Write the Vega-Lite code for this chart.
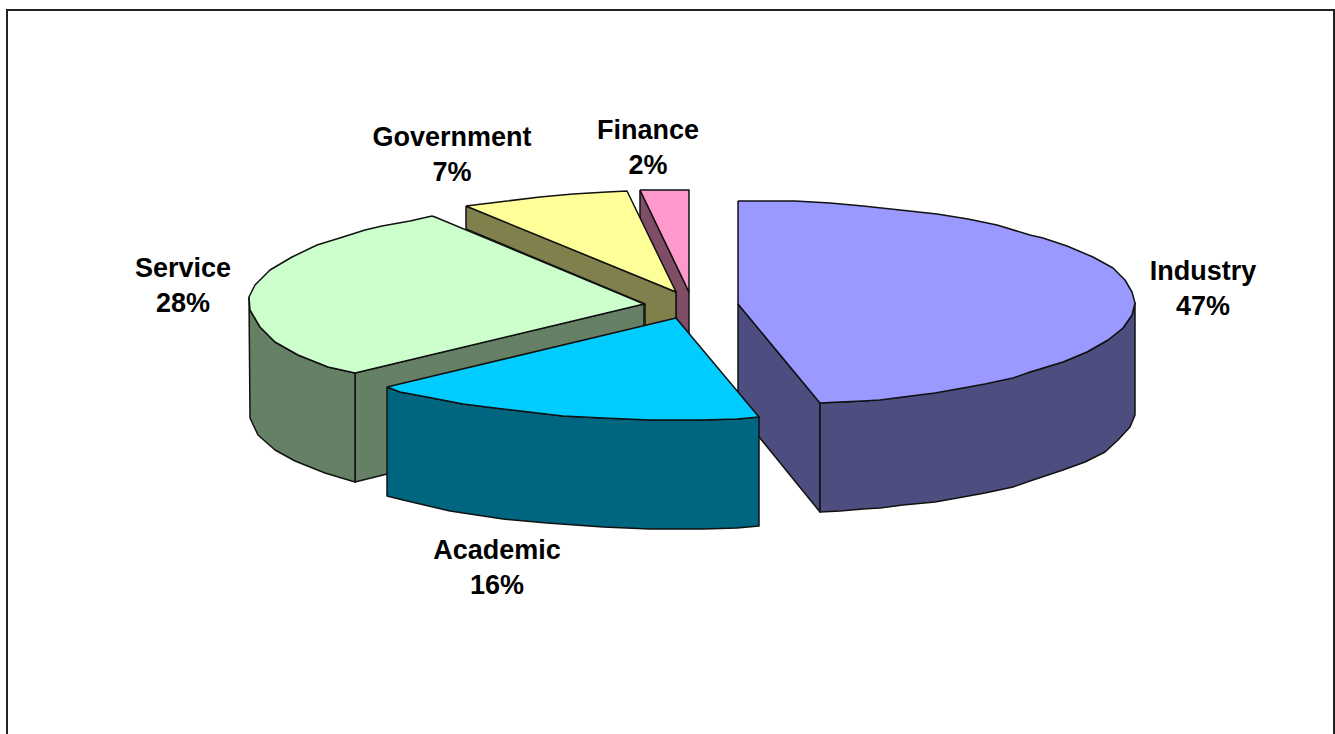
{"$schema":"https://vega.github.io/schema/vega-lite/v6.json","width":1335,"height":734,"padding":0,"autosize":"none","background":"white","config":{"view":{"stroke":null}},
"datasets":{
"frame":[{"i":0,"x":7,"y":734},{"i":1,"x":7,"y":10},{"i":2,"x":1334,"y":10},{"i":3,"x":1334,"y":734}],
"labels":[{"t":"Industry\n47%","x":1203,"y":272},{"t":"Academic\n16%","x":497,"y":551},{"t":"Service\n28%","x":183,"y":269},{"t":"Government\n7%","x":452,"y":138},{"t":"Finance\n2%","x":648,"y":131}],
"poly":[
{"p":"Finance wall","i":0,"x":640,"y":190},{"p":"Finance wall","i":1,"x":689,"y":292},{"p":"Finance wall","i":2,"x":689,"y":335},{"p":"Finance wall","i":3,"x":676,"y":318},{"p":"Finance wall","i":4,"x":676,"y":293},{"p":"Finance wall","i":5,"x":640,"y":240},{"p":"Finance wall","i":6,"x":640,"y":190},
{"p":"Finance top","i":0,"x":640,"y":190},{"p":"Finance top","i":1,"x":689,"y":190},{"p":"Finance top","i":2,"x":689,"y":292},{"p":"Finance top","i":3,"x":640,"y":190},
{"p":"Government wall","i":0,"x":466,"y":206},{"p":"Government wall","i":1,"x":676,"y":292},{"p":"Government wall","i":2,"x":676,"y":319},{"p":"Government wall","i":3,"x":645,"y":326},{"p":"Government wall","i":4,"x":645,"y":304},{"p":"Government wall","i":5,"x":466,"y":229},{"p":"Government wall","i":6,"x":466,"y":206},
{"p":"Government top","i":0,"x":466,"y":206},{"p":"Government top","i":1,"x":507,"y":201},{"p":"Government top","i":2,"x":540,"y":197},{"p":"Government top","i":3,"x":573,"y":194},{"p":"Government top","i":4,"x":607,"y":192},{"p":"Government top","i":5,"x":627,"y":191},{"p":"Government top","i":6,"x":676,"y":292},{"p":"Government top","i":7,"x":466,"y":206},
{"p":"Service inner","i":0,"x":355,"y":373},{"p":"Service inner","i":1,"x":644,"y":304},{"p":"Service inner","i":2,"x":644,"y":410},{"p":"Service inner","i":3,"x":355,"y":482},{"p":"Service inner","i":4,"x":355,"y":373},
{"p":"Service wall","i":0,"x":249,"y":297},{"p":"Service wall","i":1,"x":250,"y":310},{"p":"Service wall","i":2,"x":260,"y":327},{"p":"Service wall","i":3,"x":275,"y":342},{"p":"Service wall","i":4,"x":298,"y":355},{"p":"Service wall","i":5,"x":328,"y":367},{"p":"Service wall","i":6,"x":355,"y":373},{"p":"Service wall","i":7,"x":355,"y":482},{"p":"Service wall","i":8,"x":325,"y":473},{"p":"Service wall","i":9,"x":295,"y":461},{"p":"Service wall","i":10,"x":275,"y":450},{"p":"Service wall","i":11,"x":258,"y":435},{"p":"Service wall","i":12,"x":250,"y":418},{"p":"Service wall","i":13,"x":249,"y":297},
{"p":"Service top","i":0,"x":432,"y":216},{"p":"Service top","i":1,"x":435,"y":217},{"p":"Service top","i":2,"x":644,"y":304},{"p":"Service top","i":3,"x":355,"y":373},{"p":"Service top","i":4,"x":328,"y":367},{"p":"Service top","i":5,"x":298,"y":355},{"p":"Service top","i":6,"x":275,"y":342},{"p":"Service top","i":7,"x":260,"y":327},{"p":"Service top","i":8,"x":250,"y":310},{"p":"Service top","i":9,"x":249,"y":297},{"p":"Service top","i":10,"x":255,"y":285},{"p":"Service top","i":11,"x":270,"y":270},{"p":"Service top","i":12,"x":292,"y":257},{"p":"Service top","i":13,"x":317,"y":245},{"p":"Service top","i":14,"x":343,"y":237},{"p":"Service top","i":15,"x":365,"y":230},{"p":"Service top","i":16,"x":382,"y":226},{"p":"Service top","i":17,"x":410,"y":221},{"p":"Service top","i":18,"x":432,"y":216},
{"p":"Industry cut","i":0,"x":738,"y":304},{"p":"Industry cut","i":1,"x":820,"y":403},{"p":"Industry cut","i":2,"x":820,"y":512},{"p":"Industry cut","i":3,"x":738,"y":411},{"p":"Industry cut","i":4,"x":738,"y":304},
{"p":"Industry wall","i":0,"x":820,"y":403},{"p":"Industry wall","i":1,"x":863,"y":401},{"p":"Industry wall","i":2,"x":903,"y":397},{"p":"Industry wall","i":3,"x":963,"y":388},{"p":"Industry wall","i":4,"x":1030,"y":372},{"p":"Industry wall","i":5,"x":1063,"y":362},{"p":"Industry wall","i":6,"x":1087,"y":352},{"p":"Industry wall","i":7,"x":1108,"y":340},{"p":"Industry wall","i":8,"x":1123,"y":328},{"p":"Industry wall","i":9,"x":1132,"y":315},{"p":"Industry wall","i":10,"x":1135,"y":303},{"p":"Industry wall","i":11,"x":1135,"y":415},{"p":"Industry wall","i":12,"x":1130,"y":427},{"p":"Industry wall","i":13,"x":1118,"y":440},{"p":"Industry wall","i":14,"x":1105,"y":452},{"p":"Industry wall","i":15,"x":1085,"y":462},{"p":"Industry wall","i":16,"x":1063,"y":470},{"p":"Industry wall","i":17,"x":1030,"y":481},{"p":"Industry wall","i":18,"x":1013,"y":487},{"p":"Industry wall","i":19,"x":985,"y":493},{"p":"Industry wall","i":20,"x":963,"y":497},{"p":"Industry wall","i":21,"x":935,"y":502},{"p":"Industry wall","i":22,"x":903,"y":505},{"p":"Industry wall","i":23,"x":880,"y":508},{"p":"Industry wall","i":24,"x":863,"y":509},{"p":"Industry wall","i":25,"x":840,"y":511},{"p":"Industry wall","i":26,"x":820,"y":512},{"p":"Industry wall","i":27,"x":820,"y":403},
{"p":"Industry top","i":0,"x":738,"y":201},{"p":"Industry top","i":1,"x":795,"y":201},{"p":"Industry top","i":2,"x":830,"y":203},{"p":"Industry top","i":3,"x":863,"y":206},{"p":"Industry top","i":4,"x":900,"y":210},{"p":"Industry top","i":5,"x":937,"y":214},{"p":"Industry top","i":6,"x":968,"y":219},{"p":"Industry top","i":7,"x":997,"y":225},{"p":"Industry top","i":8,"x":1030,"y":235},{"p":"Industry top","i":9,"x":1043,"y":238},{"p":"Industry top","i":10,"x":1067,"y":246},{"p":"Industry top","i":11,"x":1093,"y":257},{"p":"Industry top","i":12,"x":1113,"y":268},{"p":"Industry top","i":13,"x":1125,"y":280},{"p":"Industry top","i":14,"x":1132,"y":292},{"p":"Industry top","i":15,"x":1135,"y":303},{"p":"Industry top","i":16,"x":1132,"y":315},{"p":"Industry top","i":17,"x":1123,"y":328},{"p":"Industry top","i":18,"x":1108,"y":340},{"p":"Industry top","i":19,"x":1087,"y":352},{"p":"Industry top","i":20,"x":1063,"y":362},{"p":"Industry top","i":21,"x":1030,"y":372},{"p":"Industry top","i":22,"x":1013,"y":378},{"p":"Industry top","i":23,"x":985,"y":384},{"p":"Industry top","i":24,"x":963,"y":388},{"p":"Industry top","i":25,"x":935,"y":393},{"p":"Industry top","i":26,"x":903,"y":397},{"p":"Industry top","i":27,"x":880,"y":400},{"p":"Industry top","i":28,"x":863,"y":401},{"p":"Industry top","i":29,"x":840,"y":402},{"p":"Industry top","i":30,"x":820,"y":403},{"p":"Industry top","i":31,"x":738,"y":304},{"p":"Industry top","i":32,"x":738,"y":201},
{"p":"Academic wall","i":0,"x":387,"y":387},{"p":"Academic wall","i":1,"x":400,"y":392},{"p":"Academic wall","i":2,"x":427,"y":397},{"p":"Academic wall","i":3,"x":463,"y":404},{"p":"Academic wall","i":4,"x":503,"y":409},{"p":"Academic wall","i":5,"x":563,"y":416},{"p":"Academic wall","i":6,"x":603,"y":418},{"p":"Academic wall","i":7,"x":650,"y":420},{"p":"Academic wall","i":8,"x":703,"y":420},{"p":"Academic wall","i":9,"x":737,"y":419},{"p":"Academic wall","i":10,"x":759,"y":417},{"p":"Academic wall","i":11,"x":759,"y":526},{"p":"Academic wall","i":12,"x":737,"y":528},{"p":"Academic wall","i":13,"x":703,"y":529},{"p":"Academic wall","i":14,"x":650,"y":529},{"p":"Academic wall","i":15,"x":603,"y":527},{"p":"Academic wall","i":16,"x":547,"y":523},{"p":"Academic wall","i":17,"x":503,"y":519},{"p":"Academic wall","i":18,"x":450,"y":511},{"p":"Academic wall","i":19,"x":403,"y":500},{"p":"Academic wall","i":20,"x":387,"y":496},{"p":"Academic wall","i":21,"x":387,"y":387},
{"p":"Academic top","i":0,"x":387,"y":387},{"p":"Academic top","i":1,"x":676,"y":318},{"p":"Academic top","i":2,"x":759,"y":417},{"p":"Academic top","i":3,"x":737,"y":419},{"p":"Academic top","i":4,"x":703,"y":420},{"p":"Academic top","i":5,"x":650,"y":420},{"p":"Academic top","i":6,"x":603,"y":418},{"p":"Academic top","i":7,"x":563,"y":416},{"p":"Academic top","i":8,"x":503,"y":409},{"p":"Academic top","i":9,"x":463,"y":404},{"p":"Academic top","i":10,"x":427,"y":397},{"p":"Academic top","i":11,"x":400,"y":392},{"p":"Academic top","i":12,"x":387,"y":387}
]},
"layer":[
{"data":{"name":"frame"},"mark":{"type":"line","stroke":"#222222","strokeWidth":2},"encoding":{"x":{"field":"x","type":"quantitative","scale":{"domain":[0,1335],"nice":false,"zero":false},"axis":null},"y":{"field":"y","type":"quantitative","scale":{"domain":[734,0],"nice":false,"zero":false},"axis":null},"order":{"field":"i"}}},
{"data":{"name":"poly"},"mark":{"type":"line","filled":true,"stroke":"#111111","strokeWidth":1.5,"strokeJoin":"round"},"encoding":{"x":{"field":"x","type":"quantitative","axis":null},"y":{"field":"y","type":"quantitative","axis":null},"order":{"field":"i"},"fill":{"field":"p","type":"nominal","legend":null,"scale":{"domain":["Finance wall","Finance top","Government wall","Government top","Service inner","Service wall","Service top","Industry cut","Industry wall","Industry top","Academic wall","Academic top"],"range":["#804D66","#FF99CC","#80804D","#FFFF99","#668066","#668066","#CCFFCC","#4D4D7F","#4D4D7F","#9999FF","#006680","#00CCFF"]}}}},
{"data":{"name":"labels"},"mark":{"type":"text","font":"Liberation Sans","fontWeight":"bold","fontSize":27,"lineBreak":"\n","lineHeight":35,"align":"center","baseline":"middle","fill":"black"},"encoding":{"x":{"field":"x","type":"quantitative","axis":null},"y":{"field":"y","type":"quantitative","axis":null},"text":{"field":"t"}}}
]}
